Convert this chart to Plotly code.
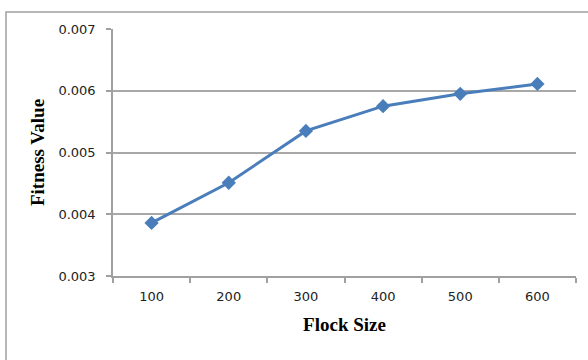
import plotly.graph_objects as go

flock_size = ["100", "200", "300", "400", "500", "600"]
fitness_value = [0.00386, 0.00451, 0.00535, 0.00575, 0.00595, 0.00611]
y_ticks = [0.003, 0.004, 0.005, 0.006, 0.007]

W, H = 588, 360
L, R, T, B = 113, 12, 29, 84
pw, ph = W - L - R, H - T - B

def px(x):
    return (x - L) / pw

def py(y):
    return (H - B - y) / ph

fig = go.Figure()
fig.add_trace(go.Scatter(
    x=flock_size, y=fitness_value, mode="lines+markers",
    line=dict(color="#4A7EBB", width=3),
    marker=dict(symbol="diamond", size=11, color="#4A7EBB"),
    showlegend=False,
))

fig.update_layout(
    width=W, height=H,
    margin=dict(l=L, r=R, t=T, b=B, autoexpand=False),
    paper_bgcolor="white", plot_bgcolor="white",
    xaxis=dict(
        type="category", tickson="boundaries", automargin=False,
        showgrid=False, showline=True, linecolor="#A0A0A0", linewidth=1.5,
        ticks="outside", ticklen=5, tickcolor="#A0A0A0", tickwidth=1.5,
        tickfont=dict(family="DejaVu Sans", size=13, color="#222"),
        ticklabelstandoff=8,
        title=dict(text="<b>Flock Size</b>", font=dict(family="Liberation Serif", size=19, color="black"), standoff=14),
        range=[-0.5, 5.5],
    ),
    yaxis=dict(
        range=[0.003, 0.007], tickvals=y_ticks, tickformat=".3f", automargin=False,
        showgrid=True, gridcolor="#A8A8A8", gridwidth=1.5,
        showline=True, linecolor="#A0A0A0", linewidth=1.5,
        ticks="outside", ticklen=5, tickcolor="#A0A0A0", tickwidth=1.5,
        tickfont=dict(family="DejaVu Sans", size=13, color="#222"),
        ticklabelstandoff=8, zeroline=False,
        title=dict(text="<b>Fitness Value</b>", font=dict(family="Liberation Serif", size=19, color="black"), standoff=9),
    ),
    shapes=[dict(
        type="rect", xref="paper", yref="paper",
        x0=px(6), x1=px(592), y0=py(12), y1=py(366),
        line=dict(color="#A0A0A0", width=1.5), fillcolor="rgba(0,0,0,0)",
    )],
)

fig.write_html("out.html", config={"displayModeBar": False},
               post_script="document.body.style.margin='0';")
